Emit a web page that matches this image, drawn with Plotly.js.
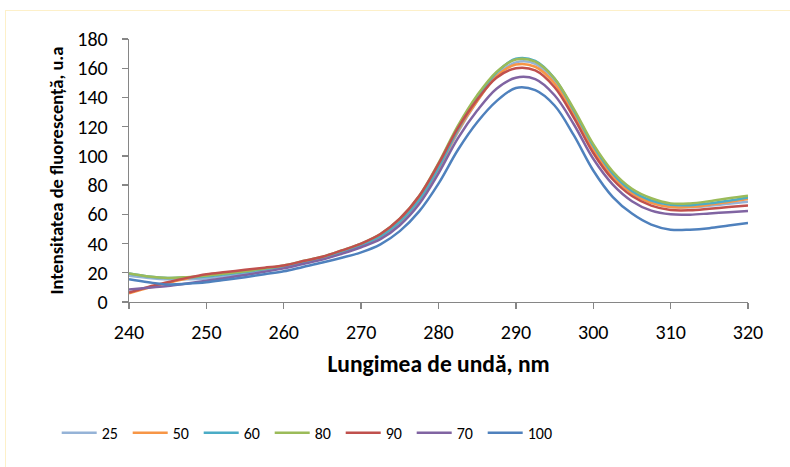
<!DOCTYPE html>
<html>
<head>
<meta charset="utf-8">
<script src="https://cdn.plot.ly/plotly-3.0.1.min.js"></script>
<style>
  html, body { margin: 0; padding: 0; background: #fff; overflow: hidden; }
  #frame { position: absolute; left: 5px; top: 10px; width: 820px; height: 500px;
           border-left: 1.5px solid #FDF0C9; border-top: 1.5px solid #FDF0C9; }
  #chart { position: absolute; left: 0; top: 0; width: 790px; height: 467px; }
</style>
</head>
<body>
<div id="frame"></div>
<div id="chart"></div>
<script>
// Wavelength (nm)
const wavelength = [240,242.5,245,247.5,250,252.5,255,257.5,260,262.5,265,267.5,270,272.5,275,277.5,280,282.5,285,287.5,290,292.5,295,297.5,300,302.5,305,307.5,310,312.5,315,317.5,320];

// Series labels (legend order)
const seriesNames = ['25','50','60','80','90','70','100'];

// Fluorescence intensity (a.u.) per series
const s25  = [18,16.5,15.5,15.5,16,17.8,19.5,21.5,23.5,26.3,29.5,33.5,38,44,54,68.5,90,116,137.5,155,164,163,151,129.5,105,86.5,74.5,68,65,64.8,65.8,67.2,68.6];
const s50  = [6,9.8,13,16,18.5,20,21.5,23,24.5,27.3,30.5,34.5,39,45,55,70,91.5,117,137.5,154.5,162.5,161,149.5,128,104,86,74.5,67.8,65,65,66.5,68.5,70.5];
const s60  = [19.5,17.5,16.5,16.7,17.5,19,20.5,22.5,24.5,27.3,30.5,34.5,39,45,55,70,92,118,140,157,166.5,165,153,131,107,88,76,69.5,66.5,66.3,67.5,69.3,71.5];
const s80  = [19.5,17.5,16.5,17,18,19.5,21,23,25,28,31,35.3,40,46.5,57,72.5,95,120.5,141.5,157.5,166,164.5,153,132,108,89.5,77.5,71,67.5,67.5,69,71,72.8];
const s90  = [6.5,10.3,13.5,16.5,19,20.5,22,23.5,25,28,31,35.3,40,46.5,57,72.5,94.5,119,138.5,153.5,160,158.5,147,126,102,84,72.5,66,63,62.8,63.8,65,66];
const s70  = [8.5,9.8,11,12.7,14.5,16.5,18.5,20.7,23,26,29,33,37.5,43,52.5,67,88,112,131,146,153.5,152.5,141.5,121.5,98,80.5,69,62.5,60,59.8,60.6,61.5,62.3];
const s100 = [15.5,13.5,12,12.5,13.5,15.2,17,19,21,24,27,30.3,34,39.5,48.5,62,81,104,123,137.5,146.5,145,134.5,114,90,72,60.5,53,49.5,49.5,50.5,52.3,54];

const seriesValues = [s25, s50, s60, s80, s90, s70, s100];
const seriesColors = ['#95B3D7','#F79646','#4BACC6','#9BBB59','#C0504D','#8064A2','#4F81BD'];

const FONT = 'Carlito, Lato, "Open Sans", sans-serif';

const traces = seriesNames.map((name, i) => ({
  type: 'scatter',
  mode: 'lines',
  name: name,
  x: wavelength,
  y: seriesValues[i],
  line: { color: seriesColors[i], width: 2.5, shape: 'spline', smoothing: 1 },
  hoverinfo: 'x+y+name'
}));

const layout = {
  width: 790,
  height: 467,
  margin: { l: 129, r: 42, t: 39, b: 165 },
  paper_bgcolor: 'rgba(0,0,0,0)',
  plot_bgcolor: 'rgba(0,0,0,0)',
  font: { family: FONT, size: 16, color: '#000' },
  showlegend: true,
  xaxis: {
    range: [240, 320],
    dtick: 10,
    tick0: 240,
    showgrid: false,
    zeroline: false,
    showline: true,
    linecolor: '#868686',
    linewidth: 1.3,
    ticks: 'outside',
    ticklen: 6,
    tickcolor: '#868686',
    tickwidth: 1.3,
    ticklabelstandoff: 6,
    tickfont: { family: FONT, size: 20, color: '#000' },
    title: { text: 'Lungimea de undă, nm', font: { family: FONT, size: 23.5, color: '#000', weight: 'bold' }, standoff: 12 }
  },
  yaxis: {
    range: [0, 180],
    dtick: 20,
    tick0: 0,
    showgrid: false,
    zeroline: false,
    showline: true,
    linecolor: '#868686',
    linewidth: 1.3,
    ticks: 'outside',
    ticklen: 6,
    tickcolor: '#868686',
    tickwidth: 1.3,
    ticklabelstandoff: 10,
    tickfont: { family: FONT, size: 20, color: '#000' },
    title: { text: 'Intensitatea de fluorescență, u.a', font: { family: FONT, size: 18.5, color: '#000', weight: 'bold' }, standoff: 8 }
  },
  legend: {
    orientation: 'h',
    x: -0.1168,
    xanchor: 'left',
    y: -0.498,
    yanchor: 'middle',
    itemwidth: 35,
    entrywidth: 21,
    font: { family: FONT, size: 16, color: '#000' },
    bgcolor: 'rgba(0,0,0,0)',
    traceorder: 'normal'
  }
};

Plotly.newPlot('chart', traces, layout, { displayModeBar: false, staticPlot: true });
</script>
</body>
</html>
